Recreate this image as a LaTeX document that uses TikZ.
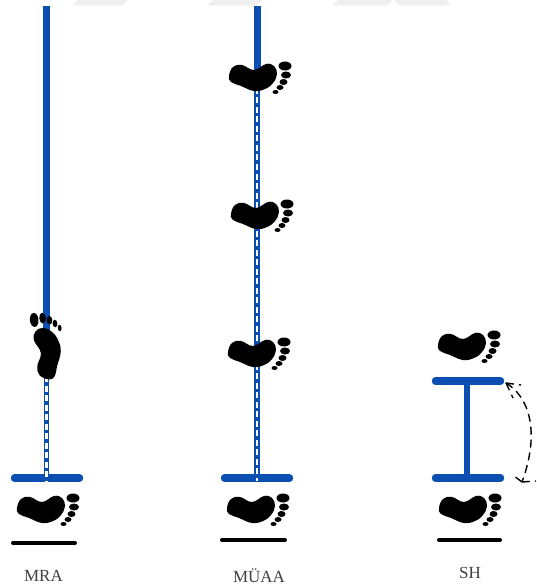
\documentclass[tikz,border=0pt]{standalone}
\usepackage{fontspec}
\setmainfont{Liberation Serif}
\usetikzlibrary{arrows.meta}
\definecolor{barblue}{HTML}{0B4FB3}
\definecolor{markgray}{HTML}{EFEFEF}
\tikzset{
	foot/.pic={
		\fill[black] plot[smooth cycle, tension=0.7] coordinates {(-31,0) (-27,-9) (-18,-11) (-6,-6) (6,-12) (14,-10) (17,-2) (13,7) (5,13) (-6,15) (-19,10) (-29,6)};
		\fill[black] (25,-10) ellipse (6.5 and 4.5);
		\fill[black] (26,-1) ellipse (5 and 3.5);
		\fill[black] (23.5,6) ellipse (4 and 3);
		\fill[black] (20,11.5) ellipse (3.5 and 2.5);
		\fill[black] (15.5,16) ellipse (3 and 2);
	},
	barline/.style={barblue, line width=7.5pt, line cap=round},
	floorline/.style={black, line width=4pt, line cap=round},
	poleline/.style={barblue, line width=7pt},
	thinpole/.style={barblue, line width=5.5pt},
	whitedash/.style={white, line width=2.8pt, dash pattern=on 6pt off 3.5pt},
	swingline/.style={black, line width=1.4pt, dash pattern=on 8pt off 5pt},
	steplabel/.style={font=\fontsize{17}{19}\selectfont, text=black!75, inner sep=0pt},
}
\begin{document}
\begin{tikzpicture}[x=1pt, y=-1pt]
	\useasboundingbox (0,0) rectangle (537,588);
	\fill[markgray] (78,0) -- (128,0) -- (122,5.5) -- (72,5.5) -- cycle;
	\fill[markgray] (213,0) -- (263,0) -- (257,5.5) -- (207,5.5) -- cycle;
	\fill[markgray] (338,0) -- (392,0) -- (388,5.5) -- (332,5.5) -- cycle;
	\fill[markgray] (394,0) -- (446,0) -- (451,5.5) -- (400,5.5) -- cycle;

	\coordinate (mraTop) at (46.5,6);
	\coordinate (mraMid) at (46.5,376);
	\coordinate (mraBar) at (46.5,478);
	\draw[poleline] (mraTop) -- (mraMid);
	\draw[thinpole] (mraMid) -- (mraBar);
	\draw[barline] (14.5,478) -- (79.5,478);
	\draw[whitedash] (mraMid) -- (46.5,481);
	\pic[rotate=95, xscale=1.08, yscale=0.95] at (46,346) {foot};
	\pic at (48,508) {foot};
	\draw[floorline] (13,543) -- (75,543);
	\node[steplabel] (mraLabel) at (43.5,576) {MRA};

	\coordinate (muaTop) at (257,6);
	\coordinate (muaMid) at (257,88);
	\coordinate (muaBar) at (257,478);
	\draw[poleline] (muaTop) -- (muaMid);
	\draw[thinpole] (muaMid) -- (muaBar);
	\draw[barline] (224.5,478) -- (289.5,478);
	\draw[whitedash] (muaMid) -- (257,481);
	\pic at (260,76) {foot};
	\pic at (262,214) {foot};
	\pic at (259,352) {foot};
	\pic at (258,508) {foot};
	\draw[floorline] (222,540) -- (285,540);
	\node[steplabel] (muaLabel) at (259,576) {MÜAA};

	\coordinate (shTop) at (467,381);
	\coordinate (shBase) at (467,478);
	\draw[barblue, line width=6pt] (shTop) -- (shBase);
	\draw[barline] (435.5,381) -- (500.5,381);
	\draw[barline] (435.5,478) -- (500.5,478);
	\pic at (469,345) {foot};
	\pic at (470,508) {foot};
	\draw[floorline] (439,540) -- (500,540);
	\node[steplabel] (shLabel) at (470,573) {SH};

	\coordinate (swingA) at (506,383);
	\coordinate (swingB) at (522,482);
	\draw[swingline] (swingA) .. controls (528,396) and (541,430) .. (swingB);
	\draw[swingline] (swingA) -- (521,385);
	\draw[swingline] (swingA) -- (513,398);
	\draw[swingline] (swingB) -- (536,481);
	\draw[swingline] (swingB) -- (514,476);
\end{tikzpicture}
\end{document}
